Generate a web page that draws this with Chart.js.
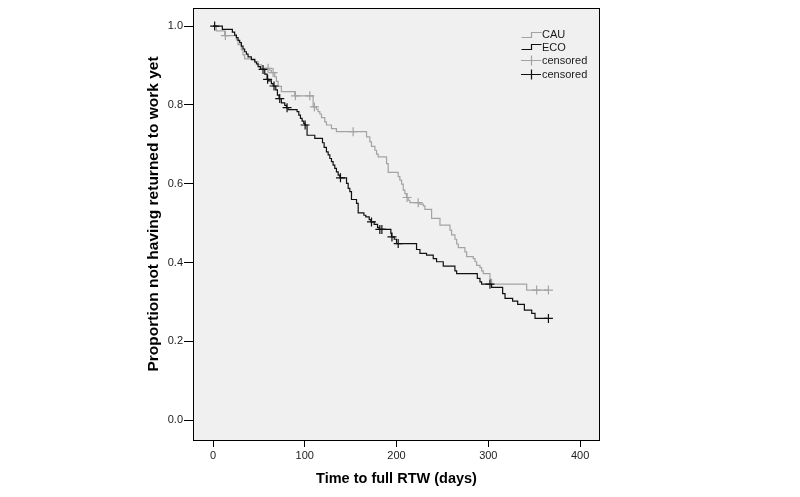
<!DOCTYPE html>
<html><head><meta charset="utf-8">
<script src="https://cdn.jsdelivr.net/npm/chart.js@4"></script>
<style>html,body{margin:0;padding:0;background:#fff;}</style>
</head><body>
<canvas id="c" width="800" height="497"></canvas>
<script>
const xTickValues = [0, 100, 200, 300, 400];
const yTickValues = [0, 0.2, 0.4, 0.6, 0.8, 1.0];
const xTitle = 'Time to full RTW (days)';
const yTitle = 'Proportion not having returned to work yet';
const legendLabels = ['CAU', 'ECO', 'censored', 'censored'];

const cauTimes = [0, 3.6, 12.7, 25.5, 27.3, 30.9, 32.7, 34.5, 45.5, 49.1, 52.7, 61.8, 63.6, 67.3, 69.1, 70.9, 74.5, 89.1, 109.1, 112.7, 114.5, 116.4, 118.2, 121.8, 123.6, 129.1, 134.5, 167.3, 170.9, 172.7, 176.4, 178.2, 180, 189.1, 190.9, 201.8, 203.6, 205.5, 207.3, 209.1, 210.9, 212.7, 214.5, 225.5, 229.1, 230.9, 238.2, 247.3, 258.2, 260, 263.6, 265.5, 267.3, 274.5, 276.4, 283.6, 285.5, 287.3, 290.9, 292.7, 294.5, 301.8, 303.6, 341.8, 365.5];
const cauSurv = [1.0, 0.988, 0.976, 0.965, 0.953, 0.940, 0.927, 0.917, 0.910, 0.902, 0.893, 0.888, 0.882, 0.871, 0.860, 0.847, 0.834, 0.823, 0.795, 0.789, 0.783, 0.777, 0.768, 0.757, 0.749, 0.740, 0.732, 0.719, 0.706, 0.695, 0.685, 0.675, 0.668, 0.651, 0.629, 0.618, 0.609, 0.599, 0.584, 0.575, 0.565, 0.558, 0.552, 0.548, 0.544, 0.535, 0.512, 0.495, 0.482, 0.470, 0.459, 0.447, 0.438, 0.427, 0.415, 0.410, 0.402, 0.393, 0.387, 0.379, 0.372, 0.357, 0.345, 0.330, 0.330];
const cauCensT = [13.5, 60.0, 65.5, 89.8, 105.5, 110.5, 152.7, 211.5, 223.6, 352.7, 365.5];
const cauCensS = [0.976, 0.893, 0.882, 0.823, 0.823, 0.795, 0.732, 0.565, 0.552, 0.330, 0.330];

const ecoTimes = [0, 10.2, 21.1, 23.6, 25.5, 27.3, 29.1, 30.9, 32.7, 34.5, 36.4, 38.2, 41.8, 45.5, 47.3, 49.1, 51.6, 56.4, 58.9, 60.7, 63.6, 65.5, 68.4, 70.2, 72, 74.5, 78.2, 80, 81.8, 91.6, 93.5, 95.3, 97.1, 98.9, 100, 102.5, 110.9, 119.3, 121.1, 123.6, 125.5, 127.3, 129.1, 130.9, 132.7, 134.5, 136.4, 138.2, 145.5, 147.3, 149.1, 150.9, 156.4, 158.2, 164.4, 166.5, 170.2, 172, 175.6, 179.3, 181.1, 193.8, 194.5, 197.5, 200, 221.8, 225.5, 232.7, 240, 243.6, 250.9, 263.6, 265.5, 288, 290.9, 292.7, 303.6, 315.6, 318.2, 326.5, 332, 339.3, 347.3, 350.9, 365.5];
const ecoSurv = [1.0, 0.992, 0.985, 0.977, 0.971, 0.964, 0.958, 0.949, 0.942, 0.935, 0.929, 0.922, 0.915, 0.909, 0.904, 0.897, 0.890, 0.878, 0.865, 0.861, 0.854, 0.848, 0.838, 0.825, 0.816, 0.805, 0.799, 0.793, 0.788, 0.783, 0.774, 0.766, 0.759, 0.753, 0.749, 0.723, 0.715, 0.704, 0.692, 0.681, 0.673, 0.664, 0.656, 0.647, 0.639, 0.630, 0.622, 0.615, 0.601, 0.588, 0.580, 0.560, 0.550, 0.526, 0.520, 0.516, 0.509, 0.503, 0.497, 0.489, 0.484, 0.474, 0.465, 0.459, 0.448, 0.433, 0.423, 0.419, 0.410, 0.402, 0.391, 0.379, 0.372, 0.360, 0.351, 0.345, 0.337, 0.321, 0.309, 0.302, 0.294, 0.279, 0.271, 0.258, 0.258];
const ecoCensT = [1.8, 54.5, 59.5, 66.5, 72.7, 80.7, 100.4, 138.9, 172.7, 181.8, 184, 195, 201.8, 301.8, 365.5];
const ecoCensS = [1.0, 0.890, 0.865, 0.848, 0.816, 0.793, 0.749, 0.615, 0.503, 0.484, 0.484, 0.465, 0.448, 0.345, 0.258];

const GRAY = '#a3a3a3';
const BLACK = '#111111';
const FONT = "'Liberation Sans', Arial, sans-serif";

function pts(t, s) { return t.map((v, i) => ({x: v, y: s[i]})); }

const framePlugin = {
  id: 'frame',
  beforeDraw(chart) {
    const {ctx, chartArea: a} = chart;
    ctx.save();
    ctx.fillStyle = '#f0f0f0';
    ctx.fillRect(a.left, a.top, a.right - a.left, a.bottom - a.top);
    ctx.restore();
  },
  afterDraw(chart) {
    const {ctx, chartArea: a} = chart;
    ctx.save();
    ctx.strokeStyle = '#000';
    ctx.lineWidth = 1;
    ctx.strokeRect(Math.round(a.left) + 0.5, Math.round(a.top) + 0.5, Math.round(a.right - a.left) - 1, Math.round(a.bottom - a.top) - 1);
    // axis titles
    ctx.fillStyle = '#000';
    ctx.textAlign = 'center';
    ctx.textBaseline = 'middle';
    ctx.font = 'bold 14.5px ' + FONT;
    ctx.fillText(xTitle, (a.left + a.right) / 2, 479);
    ctx.save();
    ctx.translate(154, 214);
    ctx.rotate(-Math.PI / 2);
    ctx.font = 'bold 15.5px ' + FONT;
    ctx.fillText(yTitle, 0, 0);
    ctx.restore();
    // legend
    ctx.lineWidth = 1.2;
    ctx.strokeStyle = GRAY;
    ctx.beginPath();
    ctx.moveTo(521.5, 37.5); ctx.lineTo(531.5, 37.5); ctx.lineTo(531.5, 32.5); ctx.lineTo(541.5, 32.5);
    ctx.stroke();
    ctx.strokeStyle = BLACK;
    ctx.beginPath();
    ctx.moveTo(521.5, 49.5); ctx.lineTo(531.5, 49.5); ctx.lineTo(531.5, 44.5); ctx.lineTo(541.5, 44.5);
    ctx.stroke();
    ctx.strokeStyle = GRAY;
    ctx.beginPath();
    ctx.moveTo(521, 60.5); ctx.lineTo(541, 60.5); ctx.moveTo(531.5, 55.5); ctx.lineTo(531.5, 65.5);
    ctx.stroke();
    ctx.strokeStyle = BLACK;
    ctx.beginPath();
    ctx.moveTo(521, 74.5); ctx.lineTo(541, 74.5); ctx.moveTo(531.5, 69.5); ctx.lineTo(531.5, 79.5);
    ctx.stroke();
    ctx.fillStyle = '#1a1a1a';
    ctx.textAlign = 'left';
    ctx.textBaseline = 'alphabetic';
    ctx.font = '11px ' + FONT;
    const ys = [37.5, 51, 64, 78];
    legendLabels.forEach((l, i) => ctx.fillText(l, 542, ys[i]));
    ctx.restore();
  }
};

new Chart(document.getElementById('c'), {
  type: 'scatter',
  data: {
    datasets: [
      {label: 'ECO', data: pts(ecoTimes, ecoSurv), showLine: true, stepped: true, borderColor: BLACK, borderWidth: 1.2, pointRadius: 0, fill: false},
      {label: 'ECO censored', data: pts(ecoCensT, ecoCensS), showLine: false, pointStyle: 'cross', pointRadius: 4.5, borderColor: BLACK, backgroundColor: BLACK, pointBorderWidth: 1.2},
      {label: 'CAU', data: pts(cauTimes, cauSurv), showLine: true, stepped: true, borderColor: GRAY, borderWidth: 1.2, pointRadius: 0, fill: false},
      {label: 'CAU censored', data: pts(cauCensT, cauCensS), showLine: false, pointStyle: 'cross', pointRadius: 4.5, borderColor: GRAY, backgroundColor: GRAY, pointBorderWidth: 1.2}
    ]
  },
  options: {
    responsive: false,
    animation: false,
    layout: {padding: {left: 142, right: 200, top: 8, bottom: 0}},
    plugins: {legend: {display: false}, tooltip: {enabled: false}},
    scales: {
      x: {
        type: 'linear', min: -21.8, max: 421.7,
        afterBuildTicks: s => { s.ticks = xTickValues.map(v => ({value: v})); },
        afterFit: s => { s.height = 56; },
        border: {display: false},
        grid: {drawOnChartArea: false, drawTicks: true, tickLength: 6, color: '#000'},
        ticks: {padding: 2, color: '#222', font: {family: FONT, size: 11}, maxRotation: 0, callback: v => String(v)}
      },
      y: {
        type: 'linear', min: -0.053, max: 1.046,
        afterBuildTicks: s => { s.ticks = yTickValues.map(v => ({value: v})); },
        afterFit: s => { s.width = 51; },
        border: {display: false},
        grid: {drawOnChartArea: false, drawTicks: true, tickLength: 9, color: '#000'},
        ticks: {padding: 1, color: '#222', font: {family: FONT, size: 11}, callback: v => Number(v).toFixed(1)}
      }
    }
  },
  plugins: [framePlugin]
});
</script>
</body></html>
